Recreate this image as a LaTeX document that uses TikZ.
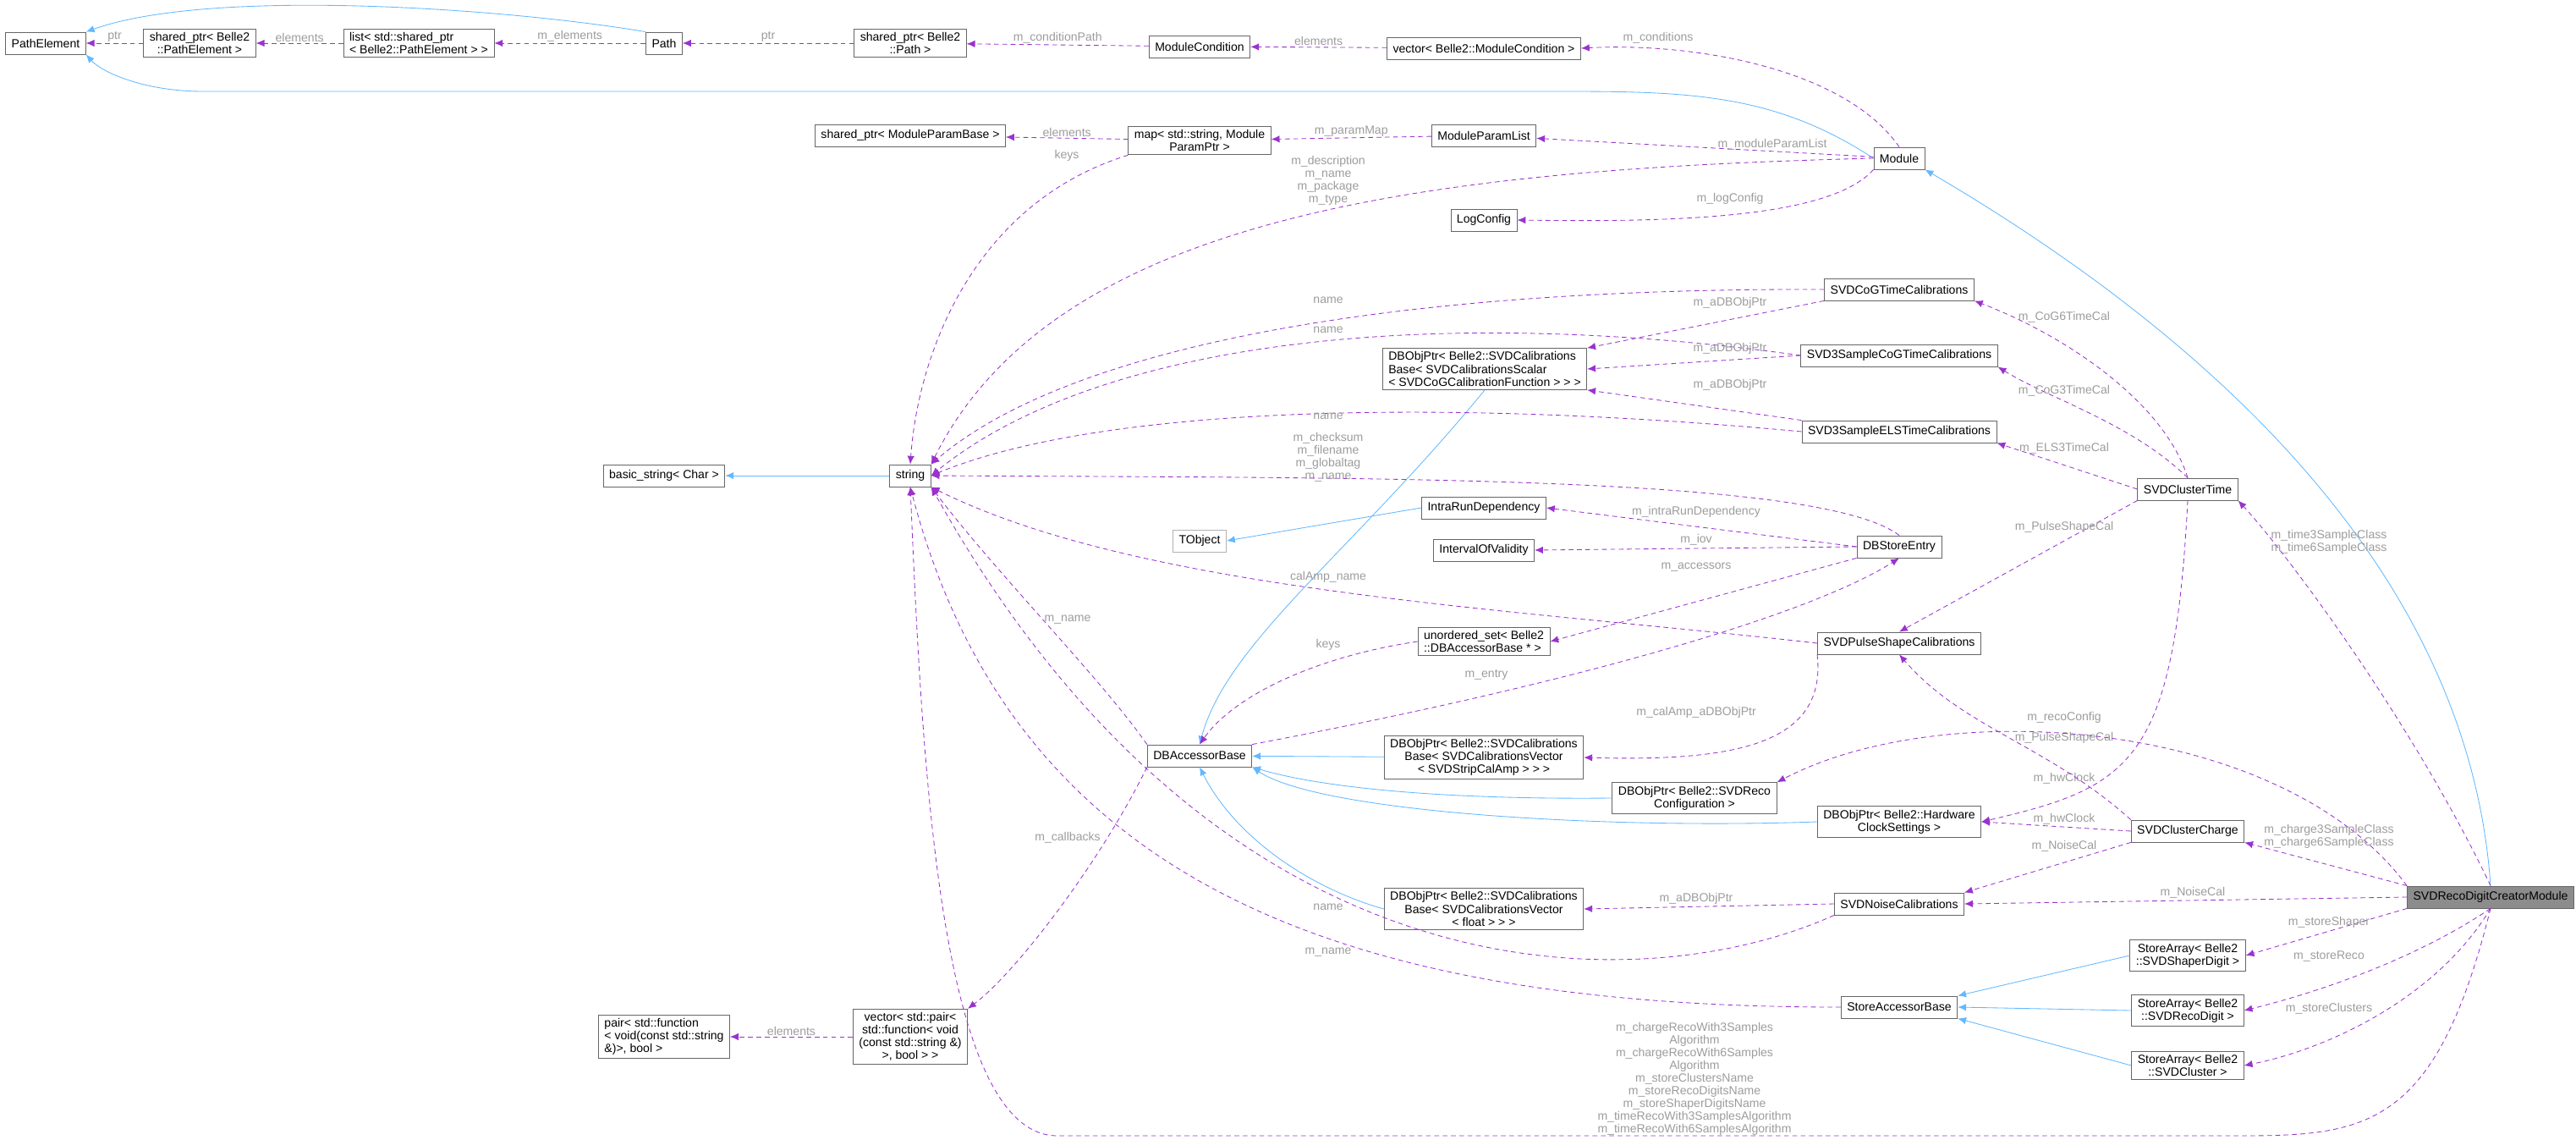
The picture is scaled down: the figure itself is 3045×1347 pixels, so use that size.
\documentclass[tikz,border=0pt]{standalone}
\usepackage{fontspec}
\setmainfont{Liberation Sans}
\usetikzlibrary{arrows.meta}
\definecolor{pur}{HTML}{9A32CD}
\definecolor{blu}{HTML}{63B8FF}
\definecolor{lab}{HTML}{9C9C9C}
\begin{document}
\begin{tikzpicture}[x=0.025cm,y=-0.025cm,
 box/.style={draw=black!60,line width=0.6pt,fill=white,font=\fontsize{10}{10.7}\selectfont,align=center,inner xsep=5pt,inner ysep=3pt,minimum height=0.65cm},
 lbox/.style={box,align=left},
 lbl/.style={text=lab,font=\fontsize{10}{10.7}\selectfont,align=center,inner sep=1pt},
 pe/.style={draw=pur,line width=0.6pt,dashed,dash pattern=on 4pt off 3pt,-{Latex[length=7pt,width=6pt]}},
 be/.style={draw=blu,line width=0.6pt,-{Latex[length=7pt,width=6pt]}}]
\useasboundingbox (0,0) rectangle (3045,1347);
% nodes
\node[box] (PE) at (54,51) {PathElement};
\node[box] (sppe) at (236,51) {shared\_ptr< Belle2\\::PathElement >};
\node[lbox] (list) at (495,51) {list< std::shared\_ptr\\< Belle2::PathElement > >};
\node[box] (path) at (785,51) {Path};
\node[box] (sppath) at (1076,51) {shared\_ptr< Belle2\\::Path >};
\node[box] (mc) at (1418,55) {ModuleCondition};
\node[box] (vmc) at (1754,57) {vector< Belle2::ModuleCondition >};
\node[box] (module) at (2245,187) {Module};
\node[box] (spmpb) at (1076,160) {shared\_ptr< ModuleParamBase >};
\node[box] (map) at (1418,166) {map< std::string, Module\\ParamPtr >};
\node[box] (mpl) at (1754,160) {ModuleParamList};
\node[box] (log) at (1754,260) {LogConfig};
\node[box] (cog) at (2245,342) {SVDCoGTimeCalibrations};
\node[lbox] (dbscalar) at (1755,436) {DBObjPtr< Belle2::SVDCalibrations\\Base< SVDCalibrationsScalar\\< SVDCoGCalibrationFunction > > >};
\node[box] (cog3) at (2245,420) {SVD3SampleCoGTimeCalibrations};
\node[box] (els) at (2245,510) {SVD3SampleELSTimeCalibrations};
\node[box] (bstr) at (785,562) {basic\_string< Char >};
\node[box] (str) at (1076,562) {string};
\node[box] (clt) at (2586,578) {SVDClusterTime};
\node[box] (intra) at (1754,600) {IntraRunDependency};
\node[box,draw=black!30] (tobj) at (1418,639) {TObject};
\node[box] (iov) at (1754,650) {IntervalOfValidity};
\node[box] (dbse) at (2245,646) {DBStoreEntry};
\node[lbox] (uset) at (1754,758) {unordered\_set< Belle2\\::DBAccessorBase * >};
\node[box] (psc) at (2245,760) {SVDPulseShapeCalibrations};
\node[box] (dbab) at (1418,893) {DBAccessorBase};
\node[box] (dbcalamp) at (1754,895) {DBObjPtr< Belle2::SVDCalibrations\\Base< SVDCalibrationsVector\\< SVDStripCalAmp > > >};
\node[box] (recocfg) at (2003,943) {DBObjPtr< Belle2::SVDReco\\Configuration >};
\node[box] (hw) at (2245,971) {DBObjPtr< Belle2::Hardware\\ClockSettings >};
\node[box] (clc) at (2586,982) {SVDClusterCharge};
\node[box] (dbfloat) at (1754,1074) {DBObjPtr< Belle2::SVDCalibrations\\Base< SVDCalibrationsVector\\< float > > >};
\node[box] (noise) at (2245,1068) {SVDNoiseCalibrations};
\node[box,fill=black!45] (main) at (2944,1060) {SVDRecoDigitCreatorModule};
\node[box] (sab) at (2245,1190) {StoreAccessorBase};
\node[box] (sashaper) at (2586,1129) {StoreArray< Belle2\\::SVDShaperDigit >};
\node[box] (sareco) at (2586,1194) {StoreArray< Belle2\\::SVDRecoDigit >};
\node[box] (sacl) at (2586,1259) {StoreArray< Belle2\\::SVDCluster >};
\node[lbox] (pair) at (785,1225) {pair< std::function\\< void(const std::string\\\&)>, bool >};
\node[box] (vpair) at (1076,1225) {vector< std::pair<\\std::function< void\\(const std::string \&)\\>, bool > >};
% blue inheritance
\draw[be] (path.north west) .. controls (600,10) and (250,-15) .. (PE.north east);
\draw[be] (module.west) .. controls (2100,112) and (2000,108) .. (1850,108) -- (240,108) .. controls (170,108) and (120,85) .. (PE.south east);
\draw[be] (main.north) .. controls (2920,700) and (2650,420) .. (module.south east);
\draw[be] (str) -- (bstr);
\draw[be] (intra.west) -- (tobj.east);
\draw[be] (dbscalar.south) .. controls (1600,650) and (1450,760) .. (dbab.north);
\draw[be] (dbcalamp) -- (dbab);
\draw[be] (recocfg.west) .. controls (1700,945) and (1560,930) .. (dbab.south east);
\draw[be] (hw.west) .. controls (1900,980) and (1560,960) .. (dbab.south east);
\draw[be] (dbfloat.west) .. controls (1550,1050) and (1460,990) .. (dbab.south);
\draw[be] (sashaper.west) -- (sab.north east);
\draw[be] (sareco.west) -- (sab.east);
\draw[be] (sacl.west) -- (sab.south east);
% purple usage
\draw[pe] (sppe) -- node[lbl,above]{ptr} (PE);
\draw[pe] (list) -- node[lbl,above]{elements} (sppe);
\draw[pe] (path) -- node[lbl,above]{m\_elements} (list);
\draw[pe] (sppath) -- node[lbl,above]{ptr} (path);
\draw[pe] (mc) -- node[lbl,above]{m\_conditionPath} (sppath);
\draw[pe] (vmc) -- node[lbl,above]{elements} (mc);
\draw[pe] (module.north) .. controls (2180,80) and (2000,50) .. (vmc.east) node[lbl] at (1960,45){m\_conditions};
\draw[pe] (map) -- node[lbl,above]{elements} (spmpb);
\draw[pe] (map.south west) .. controls (1150,240) and (1085,420) .. (str.north) node[lbl] at (1261,184){keys};
\draw[pe] (mpl) -- node[lbl,above]{m\_paramMap} (map);
\draw[pe] (module) -- node[lbl,above,pos=0.3]{m\_moduleParamList} (mpl);
\draw[pe] (module.west) .. controls (1700,200) and (1250,250) .. (str.north east) node[lbl] at (1570,213){m\_description\\m\_name\\m\_package\\m\_type};
\draw[pe] (module.south west) .. controls (2160,262) and (1950,262) .. (log.east) node[lbl] at (2045,235){m\_logConfig};
\draw[pe] (cog.west) .. controls (1600,340) and (1250,420) .. (str.north east) node[lbl] at (1570,355){name};
\draw[pe] (cog.south west) -- (dbscalar.north east) node[lbl] at (2045,358){m\_aDBObjPtr};
\draw[pe] (cog3.west) .. controls (1700,360) and (1300,400) .. (str.east) node[lbl] at (1570,390){name};
\draw[pe] (cog3.west) -- (dbscalar.east) node[lbl] at (2045,412){m\_aDBObjPtr};
\draw[pe] (els.west) .. controls (1700,470) and (1300,480) .. (str.east) node[lbl] at (1570,492){name};
\draw[pe] (els.north west) -- (dbscalar.south east) node[lbl] at (2045,455){m\_aDBObjPtr};
\draw[pe] (dbse.north) .. controls (2150,560) and (1600,565) .. (str.east) node[lbl] at (1570,540){m\_checksum\\m\_filename\\m\_globaltag\\m\_name};
\draw[pe] (dbse.west) -- (intra.east) node[lbl] at (2005,605){m\_intraRunDependency};
\draw[pe] (dbse.west) -- (iov.east) node[lbl] at (2005,638){m\_iov};
\draw[pe] (dbse.south west) -- (uset.east) node[lbl] at (2005,670){m\_accessors};
\draw[pe] (uset.west) .. controls (1560,775) and (1460,820) .. (dbab.north) node[lbl] at (1570,762){keys};
\draw[pe] (dbab.north east) .. controls (1900,800) and (2150,720) .. (dbse.south) node[lbl] at (1757,797){m\_entry};
\draw[pe] (dbab.north west) .. controls (1300,800) and (1180,680) .. (str.south east) node[lbl] at (1262,732){m\_name};
\draw[pe] (dbab.south west) .. controls (1300,1020) and (1200,1150) .. (vpair.north east) node[lbl] at (1262,990){m\_callbacks};
\draw[pe] (vpair) -- node[lbl,above]{elements} (pair);
\draw[pe] (psc.west) .. controls (1800,720) and (1350,700) .. (str.south east) node[lbl] at (1570,682){calAmp\_name};
\draw[pe] (psc.south west) .. controls (2160,880) and (2050,900) .. (dbcalamp.east) node[lbl] at (2005,842){m\_calAmp\_aDBObjPtr};
\draw[pe] (clt.north) .. controls (2560,480) and (2450,400) .. (cog.south east) node[lbl] at (2440,375){m\_CoG6TimeCal};
\draw[pe] (clt.north) .. controls (2520,500) and (2420,470) .. (cog3.south east) node[lbl] at (2440,462){m\_CoG3TimeCal};
\draw[pe] (clt.west) -- (els.south east) node[lbl] at (2440,530){m\_ELS3TimeCal};
\draw[pe] (clt.south west) -- (psc.north) node[lbl] at (2440,623){m\_PulseShapeCal};
\draw[pe] (clt.south) .. controls (2570,900) and (2520,930) .. (hw.east) node[lbl] at (2440,920){m\_hwClock};
\draw[pe] (clc.north west) .. controls (2420,880) and (2320,860) .. (psc.south) node[lbl] at (2440,872){m\_PulseShapeCal};
\draw[pe] (clc.west) -- (hw.east) node[lbl] at (2440,968){m\_hwClock};
\draw[pe] (clc.south west) -- (noise.north east) node[lbl] at (2440,1000){m\_NoiseCal};
\draw[pe] (noise.west) -- (dbfloat.east) node[lbl] at (2005,1062){m\_aDBObjPtr};
\draw[pe] (noise.south west) .. controls (1950,1180) and (1450,1200) .. (str.south east) node[lbl] at (1570,1072){name};
\draw[pe] (sab.west) .. controls (1600,1190) and (1200,1050) .. (str.south) node[lbl] at (1570,1125){m\_name};
\draw[pe] (main.north) .. controls (2850,850) and (2700,650) .. (clt.south east) node[lbl] at (2753,640){m\_time3SampleClass\\m\_time6SampleClass};
\draw[pe] (main.north west) .. controls (2700,850) and (2300,820) .. (recocfg.north east) node[lbl] at (2440,848){m\_recoConfig};
\draw[pe] (main.north west) -- (clc.south east) node[lbl] at (2753,988){m\_charge3SampleClass\\m\_charge6SampleClass};
\draw[pe] (main.west) -- (noise.east) node[lbl] at (2592,1055){m\_NoiseCal};
\draw[pe] (main.south west) -- (sashaper.east) node[lbl] at (2753,1090){m\_storeShaper};
\draw[pe] (main.south) .. controls (2860,1130) and (2750,1170) .. (sareco.east) node[lbl] at (2753,1130){m\_storeReco};
\draw[pe] (main.south) .. controls (2880,1180) and (2750,1240) .. (sacl.east) node[lbl] at (2753,1192){m\_storeClusters};
\draw[pe] (main.south) .. controls (2880,1330) and (2800,1342) .. (2650,1342) -- (1250,1342) .. controls (1110,1342) and (1090,900) .. (str.south) node[lbl] at (2003,1275){m\_chargeRecoWith3Samples\\Algorithm\\m\_chargeRecoWith6Samples\\Algorithm\\m\_storeClustersName\\m\_storeRecoDigitsName\\m\_storeShaperDigitsName\\m\_timeRecoWith3SamplesAlgorithm\\m\_timeRecoWith6SamplesAlgorithm};
\end{tikzpicture}
\end{document}
